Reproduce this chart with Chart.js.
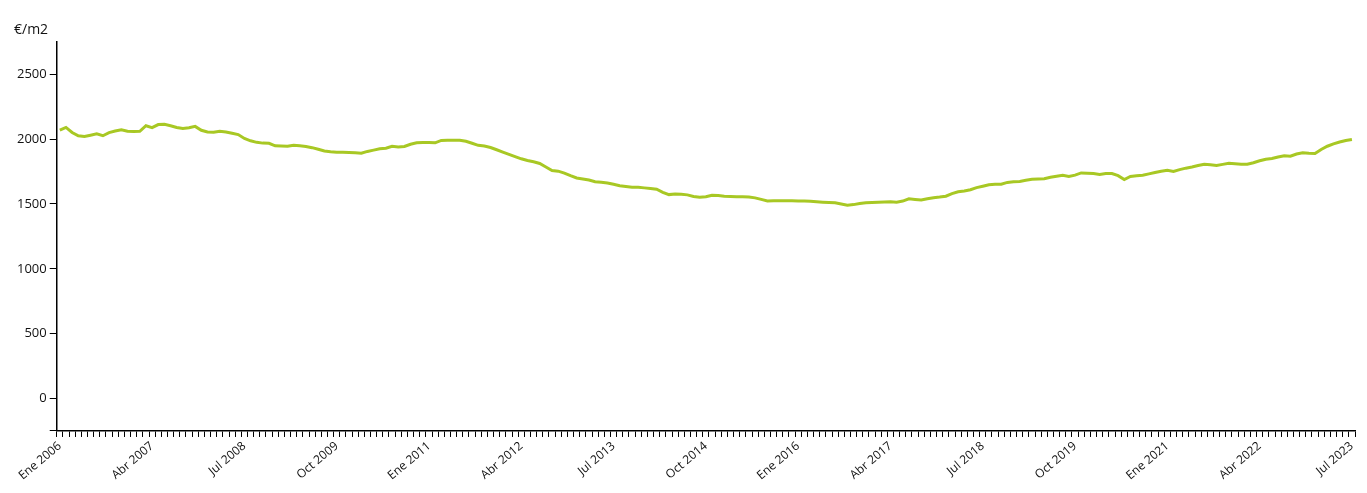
<!DOCTYPE html>
<html lang="es">
<head>
<meta charset="utf-8">
<title>Precio medio €/m2</title>
<script src="https://cdn.jsdelivr.net/npm/chart.js@4.4.0/dist/chart.umd.min.js"></script>
<style>
  html, body { margin: 0; padding: 0; background: #fff; }
  #caja { width: 1367px; height: 493px; position: relative; }
</style>
</head>
<body>
<div id="caja"><canvas id="grafico"></canvas></div>
<script>
// Meses y años del eje X (datos mensuales de Ene 2006 a Jul 2023)
const meses = ["Ene", "Feb", "Mar", "Abr", "May", "Jun", "Jul", "Ago", "Sep", "Oct", "Nov", "Dic"]
const anioInicio = 2006
const totalMeses = 211

// Precio en €/m2 (15 meses por fila)
const precios = [
  2069, 2090, 2051, 2025, 2020, 2030, 2040, 2026, 2050, 2062, 2072, 2060, 2058, 2060, 2103,
  2088, 2112, 2115, 2103, 2090, 2082, 2087, 2098, 2068, 2055, 2052, 2060, 2055, 2045, 2035,
  2005, 1987, 1975, 1969, 1968, 1948, 1946, 1945, 1953, 1948, 1943, 1934, 1922, 1908, 1902,
  1899, 1899, 1897, 1894, 1891, 1905, 1915, 1926, 1930, 1945, 1940, 1943, 1960, 1971, 1974,
  1973, 1971, 1990, 1992, 1992, 1991, 1983, 1968, 1952, 1947, 1935, 1918, 1900, 1882, 1865,
  1848, 1835, 1825, 1812, 1785, 1758, 1753, 1738, 1718, 1700, 1693, 1685, 1672, 1668, 1662,
  1652, 1640, 1634, 1629, 1628, 1624, 1620, 1614, 1590, 1572, 1577, 1574, 1570, 1558, 1551,
  1555, 1567, 1565, 1560, 1557, 1555, 1555, 1553, 1547, 1535, 1523, 1525, 1525, 1525, 1524,
  1523, 1522, 1521, 1517, 1514, 1512, 1509, 1500, 1491, 1495, 1503, 1509, 1511, 1513, 1516,
  1517, 1514, 1522, 1540, 1535, 1530, 1540, 1548, 1553, 1560, 1580, 1594, 1600, 1610, 1626,
  1637, 1648, 1651, 1652, 1666, 1671, 1674, 1682, 1690, 1692, 1694, 1706, 1714, 1721, 1712,
  1722, 1739, 1737, 1734, 1728, 1734, 1734, 1718, 1688, 1712, 1718, 1721, 1732, 1742, 1752,
  1760, 1750, 1765, 1776, 1785, 1796, 1806, 1802, 1796, 1805, 1813, 1810, 1807, 1806, 1818,
  1833, 1845, 1850, 1862, 1872, 1868, 1885, 1894, 1890, 1889, 1920, 1945, 1963, 1978, 1989,
  1997
]

// Marcas del eje Y
const marcasY = [-250, 0, 500, 1000, 1500, 2000, 2500]
const pasoEtiquetas = 15 // se rotula un mes de cada 15

// Etiquetas "Ene 2006", "Feb 2006", ...
const etiquetas = Array.from({ length: totalMeses }, (_, i) =>
  meses[i % 12] + " " + (anioInicio + Math.floor(i / 12)))

const fuente = "'Open Sans', 'DejaVu Sans', sans-serif"

const ctx = document.getElementById("grafico").getContext("2d")
new Chart(ctx, {
  type: "line",
  data: {
    labels: etiquetas,
    datasets: [{
      label: "€/m2",
      data: precios,
      borderColor: "#a8c824", // verde lima
      borderWidth: 3,
      pointRadius: 0,
      tension: 0,
      fill: false
    }]
  },
  options: {
    responsive: true,
    maintainAspectRatio: false,
    animation: false,
    layout: { padding: { top: 22, left: 14, right: 12, bottom: 8 } },
    plugins: {
      legend: { display: false },
      tooltip: { enabled: false },
      title: {
        display: true,
        text: "€/m2",
        align: "start",
        color: "#111",
        font: { family: fuente, size: 14, weight: "normal" },
        padding: { top: 0, bottom: 3 }
      }
    },
    scales: {
      x: {
        type: "category",
        offset: true,
        border: { display: true, color: "#000", width: 1.5 },
        grid: { offset: true, drawOnChartArea: false, drawTicks: true, tickLength: 6, tickColor: "#000", lineWidth: 1 },
        ticks: {
          autoSkip: false,
          minRotation: 40,
          maxRotation: 40,
          color: "#111",
          padding: 2,
          font: { family: fuente, size: 12 },
          callback: (valor, i) => i % pasoEtiquetas === 0 ? etiquetas[i] : ""
        }
      },
      y: {
        min: -250,
        max: 2750,
        afterBuildTicks: (escala) => { escala.ticks = marcasY.map(v => ({ value: v })) },
        border: { display: true, color: "#000", width: 1.5 },
        grid: { drawOnChartArea: false, drawTicks: true, tickLength: 7, tickColor: "#000" },
        ticks: {
          color: "#111",
          padding: 3,
          font: { family: fuente, size: 13 },
          callback: (valor) => valor < 0 ? "" : valor
        }
      }
    }
  }
})
</script>
</body>
</html>
